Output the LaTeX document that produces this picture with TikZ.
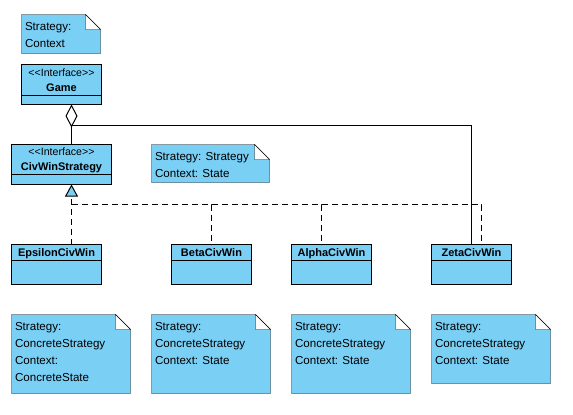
\documentclass[tikz,border=0pt]{standalone}
\usepackage{fontspec}
\newfontfamily\umlfont{Liberation Sans}
\usetikzlibrary{arrows.meta,backgrounds,calc}
\definecolor{umlblue}{RGB}{122,207,245}
\def\umlnote(#1)(#2,#3)(#4,#5)#6{%
	\node[notetext] (#1) at (#2+3,#3+7.3) {#6};
	\begin{scope}[on background layer]
		\draw[fill=umlblue] (#2,#3) -- (#2+#4-15,#3) -- (#2+#4,#3+15) -- (#2+#4,#3+#5) -- (#2,#3+#5) -- cycle;
		\draw[fill=white] (#2+#4-15,#3) -- (#2+#4-15,#3+15) -- (#2+#4,#3+15) -- cycle;
	\end{scope}}
\def\umlclass(#1)(#2,#3)(#4,#5,#6)(#7)#8{%
	\node[classbox, minimum width=#4, minimum height=#5] (#1) at (#2,#3) {};
	\draw (#2,#3+#6) -- (#2+#4,#3+#6);
	\node[classname] (#1-name) at (#2+#4/2,#3+#7) {#8};}

\begin{document}
\begin{tikzpicture}[x=1pt,y=-1pt,line width=1pt,
	classbox/.style={draw,fill=umlblue,anchor=north west,inner sep=0pt,outer sep=0pt},
	classname/.style={anchor=base,inner sep=0pt,font=\umlfont\bfseries\fontsize{11}{13}\selectfont},
	stereotype/.style={anchor=base,inner sep=0pt,font=\umlfont\fontsize{10.6}{12}\selectfont},
	notetext/.style={anchor=north west,align=left,inner sep=0pt,font=\umlfont\fontsize{11.6}{17}\selectfont},
	aggregate/.style={-{Diamond[length=23pt,width=12pt,fill=white]}},
	realize/.style={dash pattern=on 6pt off 4pt}]
	\useasboundingbox (0,0) rectangle (573,415);
	%%%%% NOTES %%%%%
	\umlnote(noteGame)(21.5,14.5)(79,39){Strategy:\\Context}
	\umlnote(noteCiv)(151.5,144.5)(118,38){Strategy: Strategy\\Context: State}
	\umlnote(noteEpsilon)(11.5,314.5)(119,79){Strategy:\\ConcreteStrategy\\Context:\\ConcreteState}
	\umlnote(noteBeta)(151.5,314.5)(119,79){Strategy:\\ConcreteStrategy\\Context: State}
	\umlnote(noteAlpha)(291.5,314.5)(119,79){Strategy:\\ConcreteStrategy\\Context: State}
	\umlnote(noteZeta)(431.5,314.5)(119,69){Strategy:\\ConcreteStrategy\\Context: State}
	%%%%% CLASSES %%%%%
	\umlclass(game)(21.5,64.5)(80,40,31)(26.5){Game}
	\node[stereotype] (game-st) at (61.5,76) {<<Interface>>};
	\umlclass(civ)(11.5,144.5)(100,40,30)(26.3){CivWinStrategy}
	\node[stereotype] (civ-st) at (61.5,155.8) {<<Interface>>};
	\umlclass(epsilon)(11.5,244.5)(90,40,16)(11.8){EpsilonCivWin}
	\umlclass(beta)(171.5,244.5)(80,40,16)(11.8){BetaCivWin}
	\umlclass(alpha)(291.5,244.5)(80,40,16)(11.8){AlphaCivWin}
	\umlclass(zeta)(431.5,244.5)(80,40,16)(11.8){ZetaCivWin}
	%%%%% LINKS %%%%%
	\coordinate (aggjoin) at (71.5,125.5);
	\coordinate (bus) at (71.5,204.5);
	\draw (aggjoin) -| (zeta.north);
	\draw[aggregate] (civ.north -| aggjoin) -- (game.south -| aggjoin);
	\draw[realize] (bus) -| (beta.north) (bus) -| ($(alpha.north)+(-10,0)$) (bus) -| ($(zeta.north)+(10,0)$);
	\draw[realize,-{Triangle[length=12pt,width=13pt,fill=umlblue]}] (epsilon.north -| bus) -- (civ.south -| bus);
\end{tikzpicture}
\end{document}
